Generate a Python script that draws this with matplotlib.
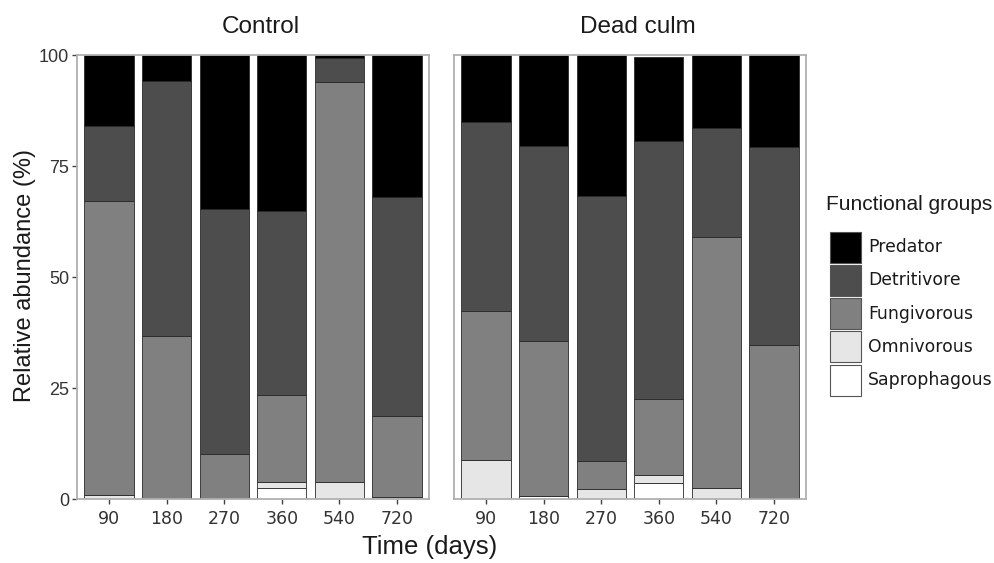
import numpy as np
import matplotlib
matplotlib.use("Agg")
from matplotlib import pyplot as plt
from matplotlib.patches import Rectangle

# ============
# Relative abundance (%) of each functional group, per sampling time
# ============
days = ["90", "180", "270", "360", "540", "720"]
groups = ["Saprophagous", "Omnivorous", "Fungivorous", "Detritivore", "Predator"]
fills = ["#ffffff", "#e6e6e6", "#808080", "#4d4d4d", "#000000"]

ctrl_sapro = [0.0, 0.0, 0.0, 2.5, 0.0, 0.0]
ctrl_omni = [1.0, 0.0, 0.0, 1.5, 3.8, 0.6]
ctrl_fung = [66.2, 36.8, 10.1, 19.4, 90.1, 18.1]
ctrl_detr = [16.8, 57.3, 55.2, 41.6, 5.4, 49.3]
ctrl_pred = [16.0, 5.9, 34.7, 35.0, 0.7, 32.0]

dead_sapro = [0.0, 0.8, 0.0, 3.6, 0.0, 0.4]
dead_omni = [8.9, 0.0, 2.3, 1.9, 2.5, 0.0]
dead_fung = [33.4, 34.9, 6.3, 17.2, 56.5, 34.3]
dead_detr = [42.7, 43.9, 59.8, 58.1, 24.6, 44.7]
dead_pred = [15.0, 20.4, 31.6, 18.8, 16.4, 20.6]

panels = [
    ("Control", [ctrl_sapro, ctrl_omni, ctrl_fung, ctrl_detr, ctrl_pred]),
    ("Dead culm", [dead_sapro, dead_omni, dead_fung, dead_detr, dead_pred]),
]

W, H = 995, 563
SANS = "Liberation Sans"
VERD = "DejaVu Sans"


def fx(x):
    return x / W


def fy(y):
    return 1 - y / H


fig = plt.figure(figsize=(W / 100, H / 100), dpi=100)

ax_left = [77, 454]
ax_w, ax_top, ax_bot = 352, 55.3, 499.3
x = np.arange(1, len(days) + 1)

for i, (title, series) in enumerate(panels):
    ax = fig.add_axes([fx(ax_left[i]), fy(ax_bot), fx(ax_w), (ax_bot - ax_top) / H])
    bottom = np.zeros(len(days))
    for vals, col in zip(series, fills):
        vals = np.asarray(vals)
        ax.bar(x, vals, width=0.86, bottom=bottom, color=col,
               edgecolor="#2a2a2a", linewidth=0.6, zorder=2)
        bottom += vals

    ax.set_xlim(0.44, 6.56)
    ax.set_ylim(0, 100)
    ax.set_xticks(x)
    ax.set_xticklabels(days, family=VERD, fontsize=12.5, color="#333333")
    ax.tick_params(axis="x", length=3.5, width=1, color="#444444", pad=4)
    if i == 0:
        ax.set_yticks([0, 25, 50, 75, 100])
        ax.set_yticklabels(["0", "25", "50", "75", "100"], family=SANS,
                           fontsize=13, color="#333333")
        ax.tick_params(axis="y", length=3.5, width=1, color="#444444", pad=2)
    else:
        ax.set_yticks([])
    for sp in ax.spines.values():
        sp.set_color("#b0b0b0")
        sp.set_linewidth(1.3)
    # strip title, sitting a little right of the panel centre
    fig.text(fx(ax_left[i] + ax_w / 2 + 8), fy(27), title, family=SANS,
             fontsize=17.5, ha="center", va="center", color="#1a1a1a")

fig.text(fx(430), fy(547), "Time (days)", family=SANS, fontsize=18.5,
         ha="center", va="center", color="#1a1a1a")
fig.text(fx(25), fy(275), "Relative abundance (%)", family=SANS, fontsize=17,
         rotation=90, ha="center", va="center", color="#1a1a1a")

# legend drawn by hand, top entry first
fig.text(fx(826), fy(204), "Functional groups", family=SANS, fontsize=15,
         ha="left", va="center", color="#1a1a1a")
key_top, key_h, key_gap = 231.7, 31, 2.2
for j, (name, col) in enumerate(zip(groups[::-1], fills[::-1])):
    y0 = key_top + j * (key_h + key_gap)
    fig.add_artist(Rectangle((fx(830), fy(y0 + key_h)), fx(31), key_h / H,
                             transform=fig.transFigure, facecolor=col,
                             edgecolor="#555555", linewidth=0.8))
    fig.text(fx(868), fy(y0 + key_h / 2), name, family=VERD, fontsize=12.4,
             ha="left", va="center", color="#1a1a1a")

fig.savefig("out.png", dpi=100)
